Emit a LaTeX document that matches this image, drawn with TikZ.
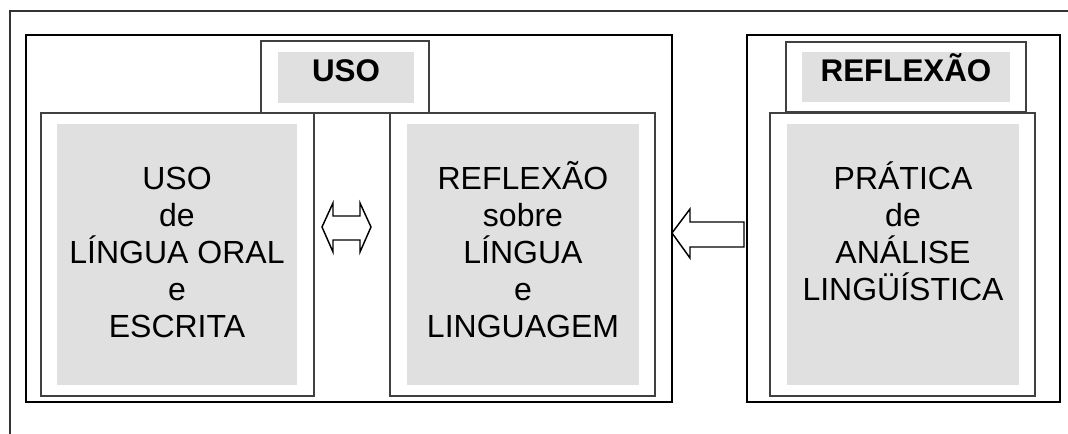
\documentclass[tikz,border=0pt]{standalone}
\usepackage{fontspec}
\setmainfont{Liberation Sans}
\usetikzlibrary{fit}
\definecolor{panelgray}{RGB}{224,224,224}
\begin{document}
\begin{tikzpicture}[x=0.75pt,y=-0.75pt,
  bigbox/.style={draw=black,line width=1.5pt,fill=white,inner sep=0pt},
  innerbox/.style={draw=black!75,line width=1pt,fill=white,inner sep=0pt},
  grayfill/.style={fill=panelgray,inner sep=0pt},
  bodytext/.style={font=\fontsize{24}{27.75}\selectfont,align=center,inner sep=0pt,anchor=base},
  tabtext/.style={font=\fontsize{23.5}{27.75}\selectfont\bfseries,inner sep=0pt,anchor=base},
  blockarrow/.style={draw=black,line width=1.1pt,fill=white,line join=miter}]
\useasboundingbox (0,0) rectangle (1068,434);
\clip (0,0) rectangle (1068,434);
\fill[white] (0,0) rectangle (1068,434);
% outer frame (only top and left visible)
\coordinate (frameBL) at (10,445);
\coordinate (frameTL) at (10,11);
\coordinate (frameTR) at (1080,11);
\draw[line width=1.1pt,black!80] (frameBL) -- (frameTL) -- (frameTR);
% group boxes
\node[bigbox,fit={(26,35) (672,402)}] (usogroup) {};
\node[bigbox,fit={(747,35) (1060,402)}] (refgroup) {};
% tabs
\node[innerbox,fit={(261,41) (429,113)}] (usotab) {};
\node[grayfill,fit={(278,52) (414,103)}] (usotabfill) {};
\node[innerbox,fit={(786,42) (1026,112)}] (reftab) {};
\node[grayfill,fit={(802,52) (1010,102)}] (reftabfill) {};
% inner boxes
\node[innerbox,fit={(41,113) (314,396)}] (usobox) {};
\node[grayfill,fit={(57,124) (297,385)}] (usofill) {};
\node[innerbox,fit={(390,113) (655,396)}] (refbox) {};
\node[grayfill,fit={(407,124) (639,385)}] (reffill) {};
\node[innerbox,fit={(770,113) (1035,396)}] (pratbox) {};
\node[grayfill,fit={(787,124) (1019,385)}] (pratfill) {};
% texts (anchor base = baseline of the last line)
\node[tabtext] (usotabtext) at (346,82) {USO};
\node[tabtext] (reftabtext) at (906,82) {REFLEXÃO};
\node[bodytext] (usotext) at (177,338) {USO\\de\\LÍNGUA ORAL\\e\\ESCRITA};
\node[bodytext] (reftext) at (523,337.5) {REFLEXÃO\\sobre\\LÍNGUA\\e\\LINGUAGEM};
\node[bodytext] (prattext) at (903,300.5) {PRÁTICA\\de\\ANÁLISE\\LINGÜÍSTICA};
% block arrows
\draw[blockarrow] (322,227) -- (333,203) -- (333,216) -- (360,216) -- (360,203) -- (371,227)
  -- (360,252) -- (360,240) -- (333,240) -- (333,252) -- cycle;
\draw[blockarrow] (672,233) -- (690,209) -- (690,222) -- (744,222) -- (744,247)
  -- (690,247) -- (690,258) -- cycle;
\end{tikzpicture}
\end{document}
